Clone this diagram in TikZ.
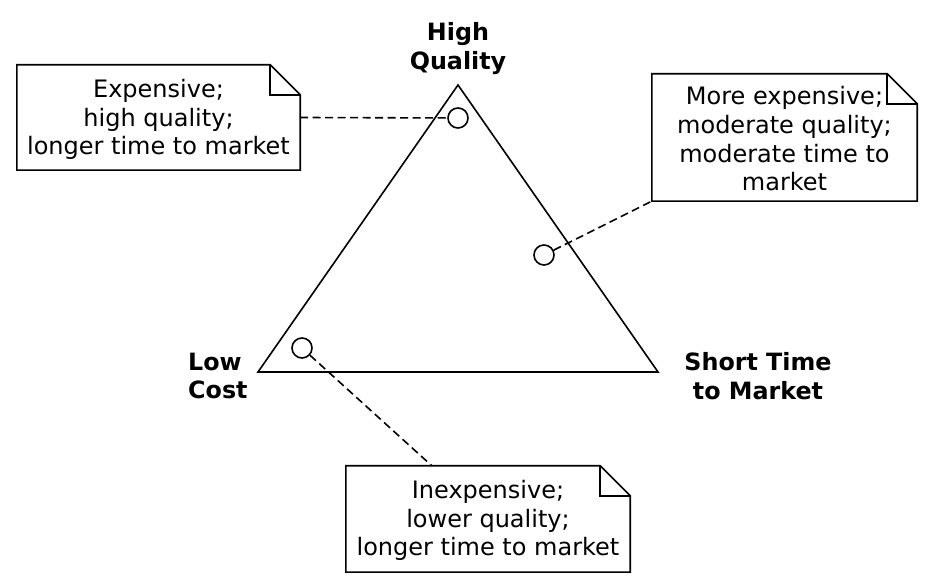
\documentclass[tikz,border=0pt]{standalone}
\usepackage{fontspec}
\setmainfont{DejaVu Sans}
\usetikzlibrary{calc}
\begin{document}
\begin{tikzpicture}[x=1pt,y=1pt,
  lw/.style={line width=1.6pt},
  notebox/.style={inner sep=0pt, align=center, font=\fontsize{24}{28.7}\selectfont},
  axislabel/.style={inner sep=0pt, font=\fontsize{23.8}{28.5}\selectfont\bfseries},
  dot/.style={circle, draw, lw, fill=white, minimum size=20pt, inner sep=0pt},
  link/.style={lw, dash pattern=on 8pt off 4.5pt}]
\useasboundingbox[fill=white] (0,0) rectangle (934,588);

% triangle
\coordinate (top) at (458,503);
\coordinate (bl) at (258,216);
\coordinate (br) at (658,216);
\draw[lw, line join=miter] (top) -- (bl) -- (br) -- cycle;

% corner labels
\node[axislabel, align=center] (hq) at (458,539.5) {High\\Quality};
\node[axislabel, align=left, anchor=west] (lc) at (188,212) {Low\\Cost};
\node[axislabel, align=center] (st) at (758,212) {Short Time\\to Market};

% circles
\node[dot] (c1) at (458,470) {};
\node[dot] (c2) at (544,333) {};
\node[dot] (c3) at (302,240) {};

% notes
\node[notebox, minimum width=283pt, minimum height=105pt] (n1) at (158.5,470.5) {};
\node[notebox] at ([yshift=-2pt]n1.center) {Expensive;\\high quality;\\longer time to market};
\node[notebox, minimum width=265pt, minimum height=127pt] (n2) at (784.5,450.5) {};
\node[notebox] at ([yshift=-1.5pt]n2.center) {More expensive;\\moderate quality;\\moderate time to\\market};
\node[notebox, minimum width=284pt, minimum height=106pt] (n3) at (488,69) {};
\node[notebox] at ([yshift=-1.5pt]n3.center) {Inexpensive;\\lower quality;\\longer time to market};

\foreach \n in {n1,n2,n3}{
  \draw[lw, line join=miter] (\n.north west) -- ([xshift=-30pt]\n.north east)
    -- ([yshift=-30pt]\n.north east) -- (\n.south east) -- (\n.south west) -- cycle;
  \draw[lw, line join=miter] ([xshift=-30pt]\n.north east)
    -- ([xshift=-30pt,yshift=-30pt]\n.north east) -- ([yshift=-30pt]\n.north east);
}

% connectors
\draw[link] (n1.east) -- (c1);
\draw[link] (c2) -- (n2.south west);
\draw[link] (c3) -- ([xshift=86pt]n3.north west);
\end{tikzpicture}
\end{document}
